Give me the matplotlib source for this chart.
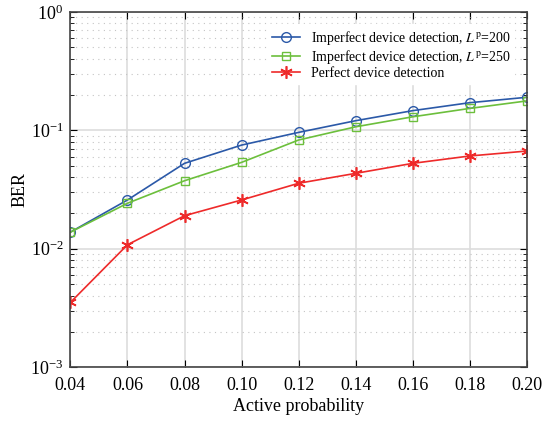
import matplotlib.pyplot as plt
import numpy as np

plt.rcParams['font.family'] = ['Liberation Serif', 'DejaVu Serif']
plt.rcParams['mathtext.fontset'] = 'stix'

# Data
p_active = [0.04, 0.06, 0.08, 0.10, 0.12, 0.14, 0.16, 0.18, 0.20]
ber_lp200 = [0.0138, 0.0258, 0.0526, 0.075, 0.096, 0.1205, 0.1465, 0.171, 0.190]
ber_lp250 = [0.0138, 0.0242, 0.0375, 0.0536, 0.0828, 0.107, 0.130, 0.153, 0.177]
ber_perfect = [0.00352, 0.0108, 0.019, 0.0258, 0.0357, 0.0433, 0.0526, 0.0607, 0.0668]
xticks = [0.04, 0.06, 0.08, 0.10, 0.12, 0.14, 0.16, 0.18, 0.20]

fig, ax = plt.subplots(figsize=(5.5, 4.23), dpi=100)
fig.subplots_adjust(left=0.128, right=0.958, top=0.972, bottom=0.132)

ax.semilogy(p_active, ber_lp200, color='#2b59a8', marker='o', markersize=7,
            markerfacecolor='none', linewidth=1.2, label=r'Imperfect device detection, $L^{\mathrm{p}}$=200')
ax.semilogy(p_active, ber_lp250, color='#6cbf3c', marker='s', markersize=6,
            markerfacecolor='none', linewidth=1.2, label=r'Imperfect device detection, $L^{\mathrm{p}}$=250')
ax.semilogy(p_active, ber_perfect, color='#ee2a2a', marker=(6, 2, 0), markersize=9,
            markeredgewidth=1.2, linewidth=1.2, label='Perfect device detection')

ax.set_xlim(0.04, 0.20)
ax.set_ylim(1e-3, 1)
ax.set_xticks(xticks)
ax.set_xticklabels([f'{t:.2f}' for t in xticks])
ax.set_xlabel('Active probability', fontsize=13, labelpad=3)
ax.set_ylabel('BER', fontsize=13, labelpad=1)
ax.tick_params(axis='both', which='both', direction='in', top=True, right=True, labelsize=13)
ax.tick_params(axis='x', pad=7)
ax.tick_params(axis='y', pad=5)
ax.tick_params(which='minor', length=3)
ax.tick_params(which='major', length=5)

ax.grid(True, which='major', color='#dddddd', linewidth=1.2)
ax.grid(True, which='minor', color='#c4c4c4', linestyle=(0, (1, 4)), linewidth=0.8)
for s in ax.spines.values():
    s.set_color('#444444')
    s.set_linewidth(1.2)

ax.legend(loc='upper right', fontsize=10, frameon=True, edgecolor='white',
          fancybox=False, framealpha=1, handlelength=2, borderaxespad=0.9,
          labelspacing=0.1, borderpad=0.3)

fig.savefig('out.png', dpi=100)
